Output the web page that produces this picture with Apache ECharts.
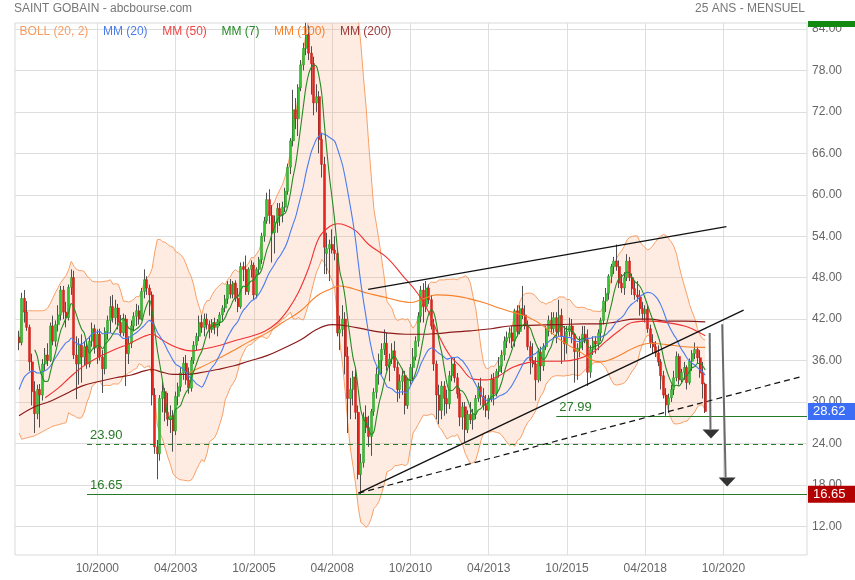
<!DOCTYPE html>
<html><head><meta charset="utf-8">
<script src="https://cdn.jsdelivr.net/npm/echarts@6/dist/echarts.min.js"></script>
<style>html,body{margin:0;padding:0;background:#fff}#c{width:855px;height:580px}</style>
</head><body><div id="c"></div>
<script>
// month index: months since Jan 2000 (first candle = Apr 1998)
const startMonth = -21;
const opens = [
39.4,38.6,45.0,43.0,40.8,35.8,31.5,28.3,31.8,
31.0,35.5,36.8,36.0,41.0,38.8,41.2,42.6,46.2,43.0,42.2,46.6,
48.0,36.8,35.5,38.2,36.5,38.0,35.5,38.8,40.6,37.8,39.8,36.5,
34.8,40.2,41.8,43.8,42.2,43.6,41.5,40.0,42.0,37.0,38.5,41.0,
42.4,43.2,42.0,46.0,47.7,46.5,45.5,31.0,23.5,22.5,30.5,31.5,
28.5,27.5,28.0,25.8,30.8,32.2,34.2,35.6,33.2,32.0,36.0,38.2,
39.5,41.5,40.8,42.0,41.2,40.5,41.5,40.8,41.6,42.6,43.6,44.9,
47.0,45.6,47.2,45.0,43.8,49.6,49.2,46.0,49.2,49.8,45.5,49.2,
50.6,54.0,56.2,59.3,57.0,54.5,56.0,58.0,57.0,58.2,60.5,64.0,
67.8,72.3,71.0,75.5,78.8,81.2,83.2,80.5,79.0,73.3,74.2,68.0,
64.4,51.5,52.2,52.8,52.0,51.5,40.0,40.5,42.0,36.6,30.5,31.8,
33.6,28.5,19.5,21.2,27.8,26.3,25.0,28.6,31.4,34.0,36.0,37.6,
38.5,35.2,36.2,37.4,35.0,31.8,33.0,33.8,29.5,33.2,35.0,36.5,
38.8,42.4,46.2,43.8,46.5,44.8,41.0,35.5,31.0,28.8,32.3,30.5,
29.7,33.8,35.5,33.5,31.2,27.8,29.3,26.0,28.2,27.4,28.2,30.5,
32.2,30.8,29.5,28.8,30.5,33.3,31.2,34.4,35.2,36.8,38.8,39.3,
40.0,38.8,43.2,40.2,43.5,42.6,41.0,38.0,36.0,35.5,33.2,37.2,
35.2,38.0,40.5,41.8,40.6,42.2,40.2,42.5,39.5,38.4,40.2,41.0,
39.8,37.3,37.8,38.7,39.8,39.0,34.3,37.6,38.8,38.4,40.0,41.8,
44.6,45.7,48.2,49.6,50.4,49.6,47.2,46.5,48.0,50.4,48.0,46.4,
45.5,45.2,43.5,42.8,43.4,40.6,38.6,38.0,37.1,35.8,33.8,31.0,
29.6,30.6,31.8,33.5,36.6,33.2,34.3,35.0,32.8,35.9,37.0,37.6,
36.4,34.2,32.6];
const highs = [
40.3,45.8,46.2,44.6,41.2,37.0,33.0,32.5,32.6,
36.2,37.8,38.5,41.5,42.5,41.8,44.0,46.8,46.8,44.5,47.0,49.2,
49.0,39.5,39.2,39.8,38.8,38.8,39.5,41.5,41.2,40.5,40.6,37.5,
40.8,42.5,45.3,45.5,44.8,44.2,42.6,42.8,42.6,39.5,41.8,43.0,
44.2,44.0,46.5,49.2,48.2,47.0,46.0,32.0,24.5,31.0,33.0,32.0,
31.3,29.5,28.8,31.5,32.8,35.0,36.5,36.8,35.0,36.5,38.8,40.0,
42.5,42.6,42.8,42.8,41.8,42.0,42.2,42.0,43.0,44.0,45.5,47.5,
47.8,47.5,47.6,46.5,50.2,50.3,51.2,49.5,50.5,50.2,49.5,51.0,
54.5,56.8,60.3,60.8,58.5,57.0,58.8,58.8,59.0,61.0,64.5,68.2,
75.2,74.0,76.0,79.5,82.0,84.9,84.5,81.5,80.0,76.0,75.0,69.0,
65.5,54.5,53.5,55.0,54.0,52.0,42.5,44.0,43.0,38.0,33.5,34.5,
35.0,29.5,22.5,28.5,29.5,28.0,29.0,32.0,35.0,37.0,38.5,40.5,
40.0,37.0,38.5,38.8,35.8,34.0,34.8,34.5,33.5,35.5,37.8,39.5,
43.0,46.8,47.2,47.5,47.0,45.5,42.0,36.0,32.5,33.0,33.0,31.8,
34.5,36.5,36.5,34.2,32.0,30.0,30.0,28.8,30.0,29.0,31.0,32.8,
33.5,32.0,31.0,31.0,34.0,34.2,34.8,36.5,37.5,39.5,40.2,40.8,
41.0,43.5,44.0,44.0,46.8,44.0,41.8,38.8,38.5,36.5,37.8,38.0,
38.5,41.0,42.5,43.0,43.0,43.0,44.8,43.5,41.0,41.0,42.2,42.0,
40.0,38.5,39.5,41.0,41.0,40.5,38.2,39.5,39.5,40.5,42.2,45.2,
46.5,48.5,50.0,51.0,52.8,50.5,48.5,48.8,51.4,51.0,48.6,47.5,
47.5,46.2,44.5,44.0,44.0,41.2,39.8,38.8,38.2,36.2,34.5,32.0,
31.2,32.5,34.5,37.3,37.0,34.8,35.8,35.3,36.3,37.5,38.6,38.0,
37.5,35.8,32.8];
const lows = [
37.5,38.2,41.5,40.3,34.5,29.5,25.5,27.5,26.3,
30.2,34.5,35.2,35.8,38.2,38.0,40.2,41.8,42.0,40.8,41.8,45.5,
36.2,30.4,32.5,32.8,35.2,34.8,35.0,38.0,37.0,35.5,36.0,31.3,
34.0,39.0,40.0,41.5,41.2,40.5,39.5,39.5,32.3,35.5,37.8,40.2,
41.0,41.2,41.8,45.0,45.5,42.5,29.5,22.5,18.8,21.5,28.5,27.2,
26.5,25.5,22.8,25.2,29.5,31.5,33.2,32.5,31.2,31.5,35.5,37.5,
38.8,40.0,39.5,40.5,39.2,40.0,39.8,39.5,41.0,41.8,43.0,44.2,
45.0,45.0,44.5,43.0,43.5,47.5,45.5,45.5,48.0,44.8,45.0,48.5,
50.0,53.2,55.8,55.8,50.2,51.5,54.5,55.5,56.0,57.5,60.0,63.0,
67.0,69.5,68.5,75.0,78.0,80.2,79.5,74.5,71.5,72.0,66.0,62.5,
48.5,48.5,47.5,51.5,50.5,39.5,37.5,39.5,34.0,25.5,27.5,29.5,
27.5,18.8,16.65,20.5,25.5,23.5,22.2,28.0,30.5,32.5,34.0,36.8,
34.5,33.0,35.5,34.5,30.0,30.5,31.0,28.2,29.0,32.5,33.0,36.0,
38.0,41.5,41.5,43.0,44.2,40.5,34.5,27.5,26.8,27.5,28.0,28.3,
29.0,33.0,32.8,30.5,26.5,26.0,24.2,25.5,26.8,26.0,27.5,30.0,
29.5,28.8,27.8,27.5,30.0,29.5,30.8,33.5,34.2,36.0,37.8,38.5,
37.8,38.0,39.5,39.8,42.0,40.5,37.5,34.0,35.0,30.2,32.8,33.0,
34.5,37.5,39.5,39.8,40.0,38.5,39.5,35.5,36.0,37.0,39.5,38.5,
32.8,33.2,36.5,37.5,38.5,32.3,33.5,36.8,37.0,37.5,38.8,41.2,
43.0,44.8,47.2,48.5,49.0,46.5,45.8,45.5,47.5,47.5,45.5,44.8,
44.5,42.5,41.8,41.5,40.0,37.8,37.0,36.5,35.2,31.8,30.5,27.99,
28.4,30.0,31.0,33.0,32.5,32.8,33.2,31.8,32.5,34.5,36.2,35.5,
33.5,30.5,28.4];
const closes = [
38.6,45.0,43.0,40.8,35.8,31.5,28.3,31.8,31.0,
35.5,36.8,36.0,41.0,38.8,41.2,42.6,46.2,43.0,42.2,46.6,48.0,
36.8,35.5,38.2,36.5,38.0,35.5,38.8,40.6,37.8,39.8,36.5,34.8,
40.2,41.8,43.8,42.2,43.6,41.5,40.0,42.0,37.0,38.5,41.0,42.4,
43.2,42.0,46.0,47.7,46.5,45.5,31.0,23.5,22.5,30.5,31.5,28.5,
27.5,28.0,25.8,30.8,32.2,34.2,35.6,33.2,32.0,36.0,38.2,39.5,
41.5,40.8,42.0,41.2,40.5,41.5,40.8,41.6,42.6,43.6,44.9,47.0,
45.6,47.2,45.0,43.8,49.6,49.2,46.0,49.2,49.8,45.5,49.2,50.6,
54.0,56.2,59.3,57.0,54.5,56.0,58.0,57.0,58.2,60.5,64.0,67.8,
72.3,71.0,75.5,78.8,81.2,83.2,80.5,79.0,73.3,74.2,68.0,64.4,
52.4,52.2,52.8,52.0,51.5,40.0,40.5,42.0,36.6,30.5,31.8,33.6,
28.5,19.5,21.2,27.8,26.3,25.0,28.6,31.4,34.0,36.0,37.6,38.5,
35.2,36.2,37.4,35.0,31.8,33.0,33.8,29.5,33.2,35.0,36.5,38.8,
42.4,46.2,43.8,46.5,44.8,41.0,35.5,31.0,28.8,32.3,30.5,29.7,
33.8,35.5,33.5,31.2,27.8,29.3,26.0,28.2,27.4,28.2,30.5,32.2,
30.8,29.5,28.8,30.5,33.3,31.2,34.4,35.2,36.8,38.8,39.3,40.0,
38.8,43.2,40.2,43.5,42.6,41.0,38.0,36.0,35.5,33.2,37.2,35.2,
38.0,40.5,41.8,40.6,42.2,40.2,42.5,39.5,38.4,40.2,41.0,39.8,
37.3,37.8,38.7,39.8,39.0,34.3,37.6,38.8,38.4,40.0,41.8,44.6,
45.7,48.2,49.6,50.4,49.6,47.2,46.5,48.0,50.4,48.0,46.4,45.5,
45.2,43.5,42.8,43.4,40.6,38.6,38.0,37.1,35.8,33.8,31.0,29.6,
30.6,31.8,33.5,36.6,33.2,34.3,35.0,32.8,35.9,37.0,37.6,36.4,
34.2,32.6,28.62];

// indicator values for the first 19 months (history before the window)
const bollUpperEarly = [38.5,43.2,43.2,43.2,43.2,43.2,43.2,43.2,43.2,43.2,43.3,43.6,44.3,45.1,45.9,46.6,47.3,47.8,48.3];
const bollLowerEarly = [25.5,24.6,24.7,24.8,24.9,25.0,25.1,25.3,25.5,25.7,25.9,26.1,26.3,26.5,26.6,26.7,26.8,26.9,27.0];
const mm20Early = [31.8,32.8,33.6,34.0,34.3,34.5,34.4,34.2,34.2,34.4,34.5,34.8,35.2,35.8,36.4,37.0,37.6,38.1,38.6];

// long moving averages [month index, value]
const mm50Pts = [[-11,30.6],[-6,32.0],[-2,33.4],[3,35.0],[9,36.4],[15,37.5],[21,38.4],[27,39.5],[30,39.8],[33,39.2],[36,38.5],[40,37.8],[45,37.4],[50,37.7],[55,38.1],[61,38.8],[67,39.4],[73,40.2],[78,41.5],[82,43.3],[86,45.8],[90,49.4],[94,53.8],[98,55.4],[101,55.8],[104,55.6],[108,54.8],[113,52.8],[120,50.9],[126,48.3],[132,45.6],[136,43.0],[140,39.5],[144,36.8],[148,35.2],[153,33.3],[158,33.2],[163,33.8],[168,35.0],[174,35.7],[180,35.9],[187,35.9],[193,36.2],[199,37.2],[204,38.8],[209,40.3],[214,41.5],[221,41.7],[227,41.5],[234,41.0],[238,40.4],[242,39.6]];
const mm100Pts = [[44,34.2],[48,34.9],[55,36.2],[61,37.4],[67,38.7],[74,40.0],[80,41.5],[87,43.2],[93,45.3],[98,46.3],[102,46.8],[107,46.4],[113,45.7],[120,45.1],[125,44.6],[129,44.4],[133,44.8],[139,45.5],[145,45.4],[151,45.0],[157,44.4],[163,43.6],[169,42.9],[174,42.3],[180,41.0],[186,39.1],[191,37.9],[195,37.0],[199,36.0],[202,35.8],[206,36.2],[210,36.9],[215,37.9],[221,38.5],[227,38.3],[234,38.0],[242,37.9]];
const mm200Pts = [[-21,28.0],[-15,29.3],[-9,30.1],[-3,31.2],[3,32.3],[10,33.0],[16,33.5],[22,33.9],[27,34.5],[30,34.7],[33,34.4],[38,34.0],[43,34.0],[48,34.2],[55,34.7],[61,35.2],[67,35.9],[74,36.7],[80,37.7],[87,39.0],[93,40.5],[99,41.2],[105,41.0],[113,40.4],[120,40.0],[127,39.8],[133,39.8],[139,39.9],[145,40.1],[152,40.3],[160,40.6],[167,41.0],[175,41.1],[186,41.2],[195,41.3],[202,41.3],[208,41.6],[215,42.0],[221,42.0],[227,41.7],[234,41.7],[242,41.6]];

// drawn figures [month index, value]
const channelTop = [[112.8,46.3],[250.1,55.4]];
const channelBottom = [[109.1,16.8],[256.7,43.3]];
const supportDashed = [[109.1,16.8],[279.6,33.75]];
const levels = [{v:27.99, from:184.9, text:'27.99', dashed:false},{v:23.90, from:5.05, text:'23.90', dashed:true},{v:16.65, from:5.05, text:'16.65', dashed:false}];
const arrowLines = [[[243.7,40.0],[244.0,26.04]],[[248.5,41.24],[249.8,19.1]]];
const arrowHeads = [[244.2,25.36],[250.4,18.41]];
const tags = [{v:28.62, text:'28.62', bg:'#3b6ef5'},{v:16.65, text:'16.65', bg:'#b30000'}];
const xTicks = [9,39,69,99,129,159,189,219,249];
const yTicks = [12,18,24,30,36,42,48,54,60,66,72,78,84];

const FONT = '"Liberation Sans", Arial, Helvetica, sans-serif';
const X_MIN = -22.56, X_MAX = 281.0, Y_MIN = 7.84, Y_MAX = 84.87;

const months = closes.map((_, i) => startMonth + i);
const mm7 = [], mm20 = [], bollUp = [], bollLo = [];
for (let i = 0; i < closes.length; i++) {
  if (i >= 6) { let s = 0; for (let k = i - 6; k <= i; k++) s += closes[k]; mm7.push([months[i], s / 7]); }
  let mid, up, lo;
  if (i < 19) { mid = mm20Early[i]; up = bollUpperEarly[i]; lo = bollLowerEarly[i]; }
  else {
    let s = 0; for (let k = i - 19; k <= i; k++) s += closes[k]; mid = s / 20;
    let q = 0; for (let k = i - 19; k <= i; k++) q += (closes[k] - mid) * (closes[k] - mid);
    const sd = Math.sqrt(q / 20); up = mid + 2 * sd; lo = mid - 2 * sd;
  }
  mm20.push([months[i], mid]); bollUp.push([months[i], up]); bollLo.push([months[i], lo]);
}
const candleData = months.map((m, i) => [m, opens[i], closes[i], lows[i], highs[i]]);
const bodyData = months.map((m, i) => [m, opens[i], closes[i], Math.min(opens[i], closes[i]), Math.max(opens[i], closes[i])]);

function fmtMonth(m) { const mo = ((m % 12) + 12) % 12 + 1; const y = 2000 + Math.floor(m / 12); return (mo < 10 ? '0' : '') + mo + '/' + y; }

const chart = echarts.init(document.getElementById('c'), null, { renderer: 'canvas' });
const GREEN = '#267a26';

const series = [];
series.push({
  type: 'custom', name: 'bandfill', coordinateSystem: 'cartesian2d', silent: true, data: [[0, 20]],
  renderItem: function (params, api) {
    if (params.dataIndex !== 0) return;
    const cs = params.coordSys; const top = cs.y, bot = cs.y + cs.height;
    const pts = [];
    for (let i = 0; i < bollUp.length; i++) { const p = api.coord(bollUp[i]); pts.push([p[0], Math.max(top, Math.min(bot, p[1]))]); }
    for (let i = bollLo.length - 1; i >= 0; i--) { const p = api.coord(bollLo[i]); pts.push([p[0], Math.max(top, Math.min(bot, p[1]))]); }
    return { type: 'polygon', shape: { points: pts }, style: { fill: 'rgba(250,160,110,0.2)' } };
  }, z: 1
});
const lineBase = { type: 'line', showSymbol: false, symbol: 'none', silent: true, animation: false };
series.push(Object.assign({}, lineBase, { name: 'BOLL (20, 2)', data: bollUp, color: '#f8a066', lineStyle: { width: 1, color: '#f8a066' }, z: 2 }));
series.push(Object.assign({}, lineBase, { name: 'BOLL (20, 2)', data: bollLo, color: '#f8a066', lineStyle: { width: 1, color: '#f8a066' }, z: 2 }));
series.push({ type: 'candlestick', name: 'wick', data: candleData, encode: { x: 0, y: [1, 2, 3, 4] }, barWidth: 1, silent: true,
  itemStyle: { color: '#4f4f4f', color0: '#4f4f4f', borderColor: '#4f4f4f', borderColor0: '#4f4f4f', borderWidth: 1 }, z: 3 });
series.push({ type: 'candlestick', name: 'body', data: bodyData, encode: { x: 0, y: [1, 2, 3, 4] }, barWidth: 2.5, silent: true,
  itemStyle: { color: '#33c433', color0: '#e6231d', borderColor: '#1f9a1f', borderColor0: '#c21c17', borderWidth: 0.5 }, z: 3 });
series.push(Object.assign({}, lineBase, { name: 'MM (200)', data: mm200Pts, smooth: 0.4, color: '#8b1a1a', lineStyle: { width: 1.2, color: '#8b1a1a' }, z: 4 }));
series.push(Object.assign({}, lineBase, { name: 'MM (100)', data: mm100Pts, smooth: 0.4, color: '#f7802a', lineStyle: { width: 1.1, color: '#f7802a' }, z: 4 }));
series.push(Object.assign({}, lineBase, { name: 'MM (50)', data: mm50Pts, smooth: 0.4, color: '#f03232', lineStyle: { width: 1.1, color: '#f03232' }, z: 4 }));
series.push(Object.assign({}, lineBase, { name: 'MM (20)', data: mm20, smooth: 0.3, color: '#4a7cf0', lineStyle: { width: 1.1, color: '#4a7cf0' }, z: 4 }));
series.push(Object.assign({}, lineBase, { name: 'MM (7)', data: mm7, smooth: 0.3, color: '#248a24', lineStyle: { width: 1.1, color: '#248a24' }, z: 4 }));
series.push(Object.assign({}, lineBase, { name: 'trend1', data: channelTop, lineStyle: { width: 1.3, color: '#111' }, z: 5 }));
series.push(Object.assign({}, lineBase, { name: 'trend2', data: channelBottom, lineStyle: { width: 1.3, color: '#111' }, z: 5 }));
series.push(Object.assign({}, lineBase, { name: 'trend3', data: supportDashed, lineStyle: { width: 1.2, color: '#111', type: [6, 4] }, z: 5 }));
levels.forEach((L, k) => {
  series.push({ type: 'line', name: 'level' + k, data: [], silent: true, z: 5,
    markLine: { silent: true, animation: false, symbol: ['none', 'none'],
      lineStyle: { color: GREEN, width: 1.1, type: L.dashed ? [5, 4] : 'solid' },
      label: { show: true, position: 'insideStartTop', distance: [3, 2], formatter: L.text, color: GREEN, fontSize: 13, fontFamily: FONT },
      data: [[{ coord: [L.from, L.v] }, { coord: [X_MAX, L.v] }]] } });
});
series.push({ type: 'line', name: 'arrows', data: [], silent: true, z: 6,
  markLine: { silent: true, animation: false, symbol: ['none', 'none'], label: { show: false },
    lineStyle: { color: '#6a6a6a', width: 2, type: 'solid' },
    data: arrowLines.map(a => [{ coord: a[0] }, { coord: a[1] }]) } });
series.push({ type: 'scatter', name: 'heads', data: arrowHeads, symbol: 'triangle', symbolRotate: 180, symbolSize: [17, 9], silent: true,
  itemStyle: { color: '#000' }, z: 7 });
tags.forEach((T, k) => {
  series.push({ type: 'line', name: 'tag' + k, data: [], silent: true, z: 8,
    markLine: { silent: true, animation: false, symbol: ['none', 'none'], lineStyle: { color: 'rgba(0,0,0,0)', width: 0 },
      label: { show: true, position: 'end', distance: 1, formatter: T.text, color: '#fff', backgroundColor: T.bg,
        padding: [2, 4, 1, 5], width: 38, fontSize: 13, lineHeight: 14, fontFamily: FONT },
      data: [{ yAxis: T.v }] } });
});

const option = {
  animation: false,
  backgroundColor: '#fff',
  textStyle: { fontFamily: FONT },
  title: [
    { text: 'SAINT GOBAIN - abcbourse.com', left: 14, top: 3, padding: 0, textStyle: { fontSize: 12, fontWeight: 'normal', color: '#777', fontFamily: FONT } },
    { text: '25 ANS - MENSUEL', right: 50, top: 3, padding: 0, textStyle: { fontSize: 12, fontWeight: 'normal', color: '#777', fontFamily: FONT } }
  ],
  legend: {
    left: 9, top: 26, padding: 0, itemWidth: 0, itemHeight: 14, itemGap: 4, selectedMode: false,
    itemStyle: { opacity: 0 }, lineStyle: { opacity: 0 },
    textStyle: { fontSize: 12, fontFamily: FONT },
    data: [
      { name: 'BOLL (20, 2)', textStyle: { color: '#f79d62' } },
      { name: 'MM (20)', textStyle: { color: '#4a7cf0' } },
      { name: 'MM (50)', textStyle: { color: '#f04444' } },
      { name: 'MM (7)', textStyle: { color: '#248a24' } },
      { name: 'MM (100)', textStyle: { color: '#f7802a' } },
      { name: 'MM (200)', textStyle: { color: '#a03a3a' } }
    ]
  },
  grid: { left: 15, right: 48, top: 23, bottom: 25, show: true, borderColor: '#d9d9d9', borderWidth: 1, backgroundColor: 'transparent', outerBoundsMode: 'none' },
  xAxis: {
    type: 'value', min: X_MIN, max: X_MAX,
    axisLine: { show: false }, axisTick: { show: false, customValues: xTicks },
    axisLabel: { customValues: xTicks, formatter: v => fmtMonth(v), color: '#666', fontSize: 12, margin: 8, fontFamily: FONT },
    splitLine: { show: true, lineStyle: { color: '#dedede', width: 1 } }
  },
  yAxis: {
    type: 'value', position: 'right', min: Y_MIN, max: Y_MAX,
    axisLine: { show: false }, axisTick: { show: false, customValues: yTicks },
    axisLabel: { customValues: yTicks, formatter: v => v.toFixed(2), color: '#666', fontSize: 12, margin: 5, fontFamily: FONT },
    splitLine: { show: true, lineStyle: { color: '#dedede', width: 1 } }
  },
  graphic: [{ type: 'rect', shape: { x: 808, y: 21, width: 47, height: 6 }, style: { fill: '#128a12' }, z: 100 }],
  series: series
};
chart.setOption(option);
</script>
</body></html>
